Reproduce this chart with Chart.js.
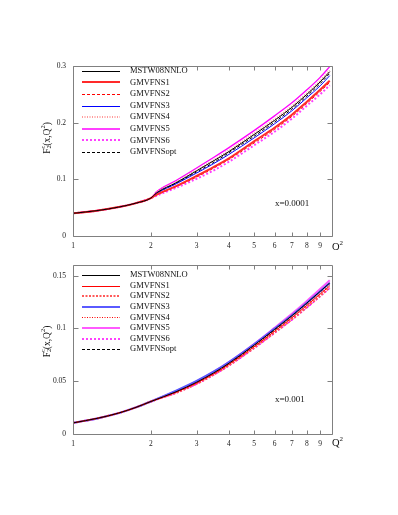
<!DOCTYPE html>
<html>
<head>
<meta charset="utf-8">
<script src="https://cdn.jsdelivr.net/npm/chart.js@4.4.0/dist/chart.umd.min.js"></script>
<style>
  body { margin: 0; background: #fff; }
  #wrap { position: relative; width: 398px; height: 515px; }
  canvas { position: absolute; left: 0; }
</style>
</head>
<body>
<div id="wrap">
  <canvas id="topChart" width="398" height="250" style="top:0"></canvas>
  <canvas id="bottomChart" width="398" height="265" style="top:250px"></canvas>
</div>
<script>
// series names, shared by both panels
const seriesNames = ['MSTW08NNLO', 'GMVFNS1', 'GMVFNS2', 'GMVFNS3', 'GMVFNS4', 'GMVFNS5', 'GMVFNS6', 'GMVFNSopt'];
const xTicks = [1, 2, 3, 4, 5, 6, 7, 8, 9];

// upper panel, x = 0.0001
const q2Top = [1, 1.25, 1.5, 1.75, 2, 2.1, 2.5, 3, 3.5, 4, 5, 6, 7, 8, 9, 9.8];
const mstwTop     = [0.040, 0.045, 0.051, 0.058, 0.067, 0.076, 0.094, 0.115, 0.133, 0.149, 0.179, 0.204, 0.227, 0.250, 0.272, 0.290];
const gmvfns1Top  = [0.040, 0.045, 0.051, 0.058, 0.067, 0.073, 0.088, 0.106, 0.122, 0.137, 0.167, 0.191, 0.214, 0.237, 0.258, 0.274];
const gmvfns2Top  = [0.040, 0.045, 0.051, 0.058, 0.067, 0.072, 0.087, 0.104, 0.120, 0.135, 0.164, 0.188, 0.211, 0.234, 0.255, 0.271];
const gmvfns3Top  = [0.040, 0.045, 0.051, 0.058, 0.067, 0.075, 0.092, 0.111, 0.128, 0.144, 0.173, 0.198, 0.221, 0.244, 0.265, 0.283];
const gmvfns4Top  = [0.040, 0.045, 0.051, 0.058, 0.067, 0.077, 0.095, 0.116, 0.134, 0.151, 0.181, 0.206, 0.229, 0.252, 0.274, 0.292];
const gmvfns5Top  = [0.040, 0.045, 0.051, 0.058, 0.067, 0.078, 0.098, 0.120, 0.139, 0.156, 0.186, 0.212, 0.235, 0.258, 0.280, 0.299];
const gmvfns6Top  = [0.040, 0.045, 0.051, 0.058, 0.067, 0.071, 0.085, 0.101, 0.116, 0.131, 0.160, 0.184, 0.207, 0.230, 0.250, 0.266];
const gmvfnsOptTop = [0.040, 0.045, 0.051, 0.058, 0.067, 0.075, 0.093, 0.113, 0.130, 0.147, 0.176, 0.201, 0.224, 0.247, 0.269, 0.287];
const yTicksTop = [0, 0.1, 0.2, 0.3];

// lower panel, x = 0.001
const q2Bottom = [1, 1.25, 1.5, 1.75, 2, 2.5, 3, 3.5, 4, 5, 6, 7, 8, 9, 9.8];
const mstwBottom     = [0.0105, 0.0150, 0.0198, 0.0252, 0.0308, 0.0400, 0.0490, 0.0580, 0.0670, 0.0840, 0.0990, 0.1120, 0.1240, 0.1350, 0.1430];
const gmvfns1Bottom  = [0.0105, 0.0150, 0.0198, 0.0252, 0.0308, 0.0395, 0.0482, 0.0570, 0.0658, 0.0825, 0.0972, 0.1100, 0.1218, 0.1325, 0.1402];
const gmvfns2Bottom  = [0.0105, 0.0150, 0.0198, 0.0252, 0.0308, 0.0390, 0.0475, 0.0563, 0.0650, 0.0815, 0.0960, 0.1085, 0.1202, 0.1308, 0.1385];
const gmvfns3Bottom  = [0.0105, 0.0150, 0.0198, 0.0252, 0.0308, 0.0410, 0.0502, 0.0592, 0.0682, 0.0850, 0.0998, 0.1125, 0.1243, 0.1352, 0.1430];
const gmvfns4Bottom  = [0.0105, 0.0150, 0.0198, 0.0252, 0.0308, 0.0397, 0.0485, 0.0574, 0.0662, 0.0830, 0.0978, 0.1106, 0.1225, 0.1333, 0.1412];
const gmvfns5Bottom  = [0.0105, 0.0150, 0.0198, 0.0252, 0.0308, 0.0405, 0.0498, 0.0590, 0.0680, 0.0852, 0.1005, 0.1138, 0.1260, 0.1372, 0.1455];
const gmvfns6Bottom  = [0.0105, 0.0150, 0.0198, 0.0252, 0.0308, 0.0388, 0.0472, 0.0560, 0.0646, 0.0810, 0.0955, 0.1080, 0.1196, 0.1302, 0.1380];
const gmvfnsOptBottom = [0.0105, 0.0150, 0.0198, 0.0252, 0.0308, 0.0398, 0.0487, 0.0577, 0.0666, 0.0835, 0.0985, 0.1114, 0.1234, 0.1343, 0.1422];
const yTicksBottom = [0, 0.05, 0.1, 0.15];

const serif = "'Liberation Serif', 'Times New Roman', serif";
Chart.defaults.font.family = serif;
Chart.defaults.color = '#222';

// line looks, same order as seriesNames
const stylesTop = [
    {c: '#000000', w: 1, d: []},
    {c: '#ff2a2a', w: 2, d: []},
    {c: '#ff0000', w: 1, d: [3, 2]},
    {c: '#0000ff', w: 1, d: []},
    {c: '#ff9a9a', w: 2, d: [1, 1.5]},
    {c: '#ff00ff', w: 1.3, d: []},
    {c: '#ff40ff', w: 2, d: [2, 2]},
    {c: '#000000', w: 1, d: [3, 2]}
];
const stylesBottom = [
    {c: '#000000', w: 1, d: []},
    {c: '#ff0000', w: 1, d: []},
    {c: '#ff5a5a', w: 2, d: [2, 1.5]},
    {c: '#5a5aff', w: 2, d: []},
    {c: '#ff0000', w: 1, d: [1, 1.5]},
    {c: '#ff5aff', w: 2, d: []},
    {c: '#ff00ff', w: 1.5, d: [2, 2]},
    {c: '#000000', w: 1, d: [3, 2]}
];

function drawParts(ctx, parts, x, y) {
    let cx = x;
    parts.forEach(p => {
        ctx.font = p[1] + 'px ' + serif;
        ctx.fillText(p[0], cx, y + p[2]);
        if (p[3] !== false) cx += ctx.measureText(p[0]).width;
    });
    return cx - x;
}

function partsWidth(ctx, parts) {
    let w = 0;
    parts.forEach(p => {
        ctx.font = p[1] + 'px ' + serif;
        if (p[3] !== false) w += ctx.measureText(p[0]).width;
    });
    return w;
}

const yTitle = [['F', 9.5, 0], ['2', 6.5, 2.5, false], ['c', 6.5, -3.5], ['(x,Q', 9.5, 0], ['2', 6.5, -3.5], [')', 9.5, 0]];
const qLabel = [['Q', 10.5, 0], ['2', 7, -4]];

// frame with inward ticks, legend and labels, gnuplot style
const decor = {
    id: 'decor',
    afterDraw(chart, args, o) {
        const {ctx, chartArea: a} = chart;
        const xs = chart.scales.x, ys = chart.scales.y;
        ctx.save();
        ctx.strokeStyle = '#808080';
        ctx.lineWidth = 1;
        ctx.beginPath();
        const l = Math.round(a.left) + 0.5, r = Math.round(a.right) + 0.5;
        const t = Math.round(a.top) + 0.5, b = Math.round(a.bottom) + 0.5;
        ctx.rect(l, t, r - l, b - t);
        xs.ticks.forEach(tk => {
            const px = Math.round(xs.getPixelForValue(tk.value)) + 0.5;
            ctx.moveTo(px, b); ctx.lineTo(px, b - 4);
            ctx.moveTo(px, t); ctx.lineTo(px, t + 4);
        });
        ys.ticks.forEach(tk => {
            const py = Math.round(ys.getPixelForValue(tk.value)) + 0.5;
            ctx.moveTo(l, py); ctx.lineTo(l + 5, py);
            ctx.moveTo(r, py); ctx.lineTo(r - 5, py);
        });
        ctx.stroke();

        ctx.textBaseline = 'middle';
        ctx.textAlign = 'left';
        chart.data.datasets.forEach((ds, i) => {
            const y = o.legendTop + i * o.legendStep;
            const ly = ds.borderWidth % 2 === 1 ? Math.round(y) + 0.5 : Math.round(y);
            ctx.strokeStyle = ds.borderColor;
            ctx.lineWidth = ds.borderWidth;
            ctx.setLineDash(ds.borderDash);
            ctx.beginPath();
            ctx.moveTo(a.left + 9, ly);
            ctx.lineTo(a.left + 47, ly);
            ctx.stroke();
            ctx.setLineDash([]);
            ctx.fillStyle = '#111';
            ctx.font = '8.5px ' + serif;
            ctx.fillText(ds.label, a.left + 57, y);
        });

        ctx.fillStyle = '#111';
        ctx.font = '9px ' + serif;
        ctx.fillText(o.note, a.left + 202, o.noteY);

        drawParts(ctx, qLabel, a.right, o.qY);

        ctx.translate(47, o.titleY);
        ctx.rotate(-Math.PI / 2);
        const w = partsWidth(ctx, yTitle);
        drawParts(ctx, yTitle, -w / 2, 0);
        ctx.restore();
    }
};

function makeDatasets(q2, seriesList, styles) {
    return seriesList.map((vals, i) => ({
        label: seriesNames[i],
        data: q2.map((q, j) => ({x: q, y: vals[j]})),
        borderColor: styles[i].c,
        borderWidth: styles[i].w,
        borderDash: styles[i].d,
        pointRadius: 0,
        cubicInterpolationMode: 'monotone',
        fill: false
    }));
}

function makeChart(id, datasets, yMax, yTicks, pad, xHeight, decorOpts) {
    return new Chart(document.getElementById(id), {
        type: 'line',
        data: {datasets: datasets},
        options: {
            responsive: false,
            animation: false,
            layout: {padding: {top: pad, right: 66, left: 0, bottom: 0}},
            plugins: {
                legend: {display: false},
                tooltip: {enabled: false},
                decor: decorOpts
            },
            scales: {
                x: {
                    type: 'logarithmic',
                    min: 1,
                    max: 10,
                    grid: {display: false, drawTicks: false},
                    border: {display: false},
                    afterBuildTicks: s => { s.ticks = xTicks.map(v => ({value: v})); },
                    afterFit: s => { s.height = xHeight; },
                    ticks: {
                        autoSkip: false,
                        maxRotation: 0,
                        padding: 6,
                        font: {size: 7.5},
                        callback: v => String(v)
                    }
                },
                y: {
                    min: 0,
                    max: yMax,
                    grid: {display: false, drawTicks: false},
                    border: {display: false},
                    afterBuildTicks: s => { s.ticks = yTicks.map(v => ({value: v})); },
                    afterFit: s => { s.width = 73; },
                    ticks: {
                        padding: 7,
                        font: {size: 7.5},
                        callback: v => String(v)
                    }
                }
            }
        },
        plugins: [decor]
    });
}

makeChart('topChart',
    makeDatasets(q2Top, [mstwTop, gmvfns1Top, gmvfns2Top, gmvfns3Top, gmvfns4Top, gmvfns5Top, gmvfns6Top, gmvfnsOptTop], stylesTop),
    0.3, yTicksTop, 66, 14,
    {legendTop: 70.7, legendStep: 11.6, note: 'x=0.0001', noteY: 204, qY: 247, titleY: 138});

makeChart('bottomChart',
    makeDatasets(q2Bottom, [mstwBottom, gmvfns1Bottom, gmvfns2Bottom, gmvfns3Bottom, gmvfns4Bottom, gmvfns5Bottom, gmvfns6Bottom, gmvfnsOptBottom], stylesBottom),
    0.16, yTicksBottom, 15, 81,
    {legendTop: 25, legendStep: 10.6, note: 'x=0.001', noteY: 150, qY: 193.5, titleY: 91.5});
</script>
</body>
</html>
